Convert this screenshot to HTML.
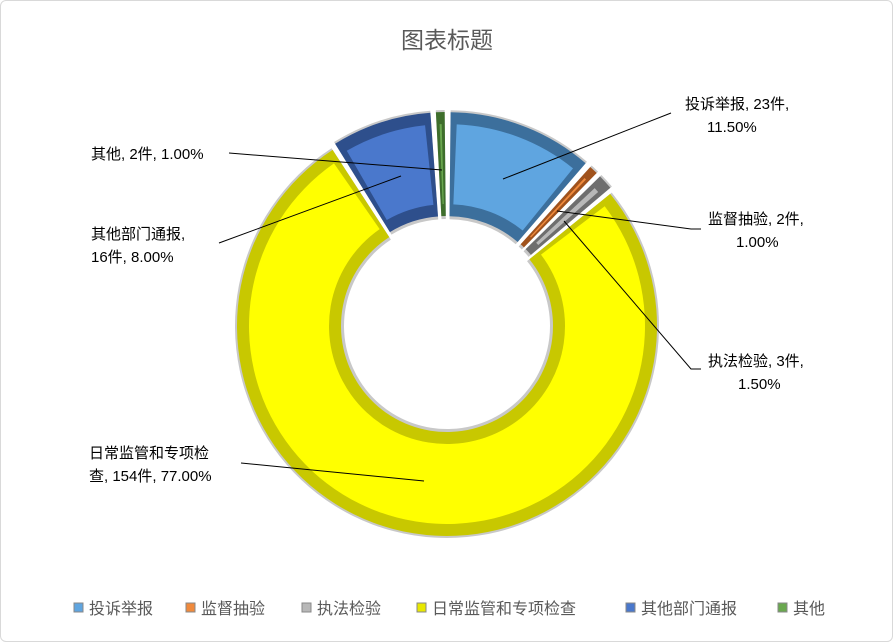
<!DOCTYPE html>
<html><head><meta charset="utf-8"><style>
body{margin:0;background:#fff}
#c{position:relative;width:891px;height:640px;border:1px solid #d9d9d9;border-radius:6px;overflow:hidden;font-family:"Liberation Sans","Noto Sans CJK SC",sans-serif}
</style></head><body><div id="c">
<svg id="s" width="891" height="640" xmlns="http://www.w3.org/2000/svg">
<text x="446" y="47" text-anchor="middle" font-size="23" fill="#595959" font-family="Liberation Sans,Noto Sans CJK SC,sans-serif">图表标题</text>
<g id="pie"></g>
<g stroke="#000" stroke-width="1" fill="none">
<line x1="502" y1="178" x2="670" y2="112"/>
<line x1="228" y1="152" x2="441" y2="169"/>
<line x1="218" y1="242" x2="400" y2="175"/>
<polyline points="556,210 690,228 700,228"/>
<polyline points="563,220 690,368 700,368"/>
<line x1="240" y1="462" x2="423" y2="480"/>
</g>
<g font-size="15" fill="#000" font-family="Liberation Sans,Noto Sans CJK SC,sans-serif">
<text x="684" y="108">投诉举报, 23件,</text><text x="706" y="131">11.50%</text>
<text x="90" y="158">其他, 2件, 1.00%</text>
<text x="90" y="238">其他部门通报,</text><text x="90" y="261">16件, 8.00%</text>
<text x="707" y="223">监督抽验, 2件,</text><text x="735" y="246">1.00%</text>
<text x="707" y="365">执法检验, 3件,</text><text x="737" y="388">1.50%</text>
<text x="88" y="457">日常监管和专项检</text><text x="88" y="480">查, 154件, 77.00%</text>
</g>
<g font-size="16" fill="#595959" font-family="Liberation Sans,Noto Sans CJK SC,sans-serif" id="leg"></g>
</svg></div>
<script>
var cx=446,cy=325,R=210,r=106;
var d=[[11.5,"#5fa5e0","#3c6f9c"],[1,"#f08a3c","#a0521c"],[1.5,"#b8b8b8","#6e6e6e"],[77,"#ffff00","#c8c800"],[8,"#4a78cc","#2e4f8c"],[1,"#6aa84f","#3e6e2c"]];
function P(a,rad){a=(a-90)*Math.PI/180;return [cx+rad*Math.cos(a),cy+rad*Math.sin(a)];}
function arc(a0,a1,ro,ri,off,mid){var o=P(mid,off);var dx=o[0]-cx,dy=o[1]-cy;
var p1=P(a0,ro),p2=P(a1,ro),p3=P(a1,ri),p4=P(a0,ri);var l=(a1-a0)>180?1:0;
return "M"+(p1[0]+dx)+","+(p1[1]+dy)+"A"+ro+","+ro+" 0 "+l+" 1 "+(p2[0]+dx)+","+(p2[1]+dy)+"L"+(p3[0]+dx)+","+(p3[1]+dy)+"A"+ri+","+ri+" 0 "+l+" 0 "+(p4[0]+dx)+","+(p4[1]+dy)+"Z";}
var h="",a=0;
d.forEach(function(s,i){var sw=s[0]*3.6,a0=a+0.6,a1=a+sw-0.6,m=a+sw/2;a+=sw;
var off=(i==3)?0:4;
h+='<path d="'+arc(a0,a1,R+2,r-3,off,m)+'" fill="#c8c8c8"/>';
h+='<path d="'+arc(a0,a1,R,r,off,m)+'" fill="'+s[2]+'"/>';
var ins=Math.min(1.8,sw/4);
h+='<path d="'+arc(a0+ins,a1-ins,R-12,r+12,off,m)+'" fill="'+s[1]+'"/>';});
document.getElementById("pie").innerHTML=h;
var L=[["投诉举报",88,"#5fa5e0"],["监督抽验",200,"#f08a3c"],["执法检验",316,"#b8b8b8"],["日常监管和专项检查",431,"#e8e800"],["其他部门通报",640,"#4a78cc"],["其他",792,"#6aa84f"]];
var g="";L.forEach(function(l){g+='<rect x="'+(l[1]-15)+'" y="602" width="9" height="9" fill="'+l[2]+'" stroke="#888" stroke-width="1"/><text x="'+(l[1])+'" y="613">'+l[0]+'</text>';});
document.getElementById("leg").innerHTML=g;
</script>
</body></html>
